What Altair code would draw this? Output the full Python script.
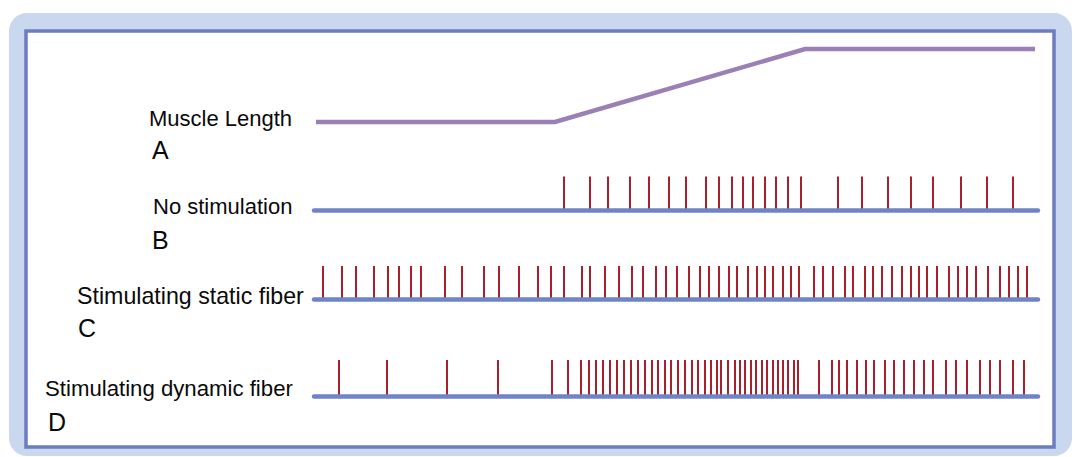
import altair as alt
import pandas as pd

# time axis: 0 = start of the recording traces, same unit along all rows
spikes_b = [250, 276, 294, 316, 335, 355, 372, 392, 405, 418, 429, 439, 451, 462, 474, 487,
            524, 548, 574, 597, 619, 647, 673, 699]
spikes_c = [9, 28, 42, 60, 74, 85, 97, 107, 131, 148, 170, 185, 205, 224, 237, 250, 268, 276,
            291, 305, 318, 329, 342, 352, 363, 375, 386, 395, 405, 415, 423, 434, 443, 451, 459,
            469, 477, 485, 500, 509, 519, 531, 539, 551, 559, 568, 578, 588, 597, 605, 613, 623,
            635, 644, 653, 662, 674, 686, 695, 704, 713]
spikes_d = [25, 73, 133, 184,
            238, 254, 267, 275, 282, 289, 296, 303, 310, 317, 324, 331, 338, 344, 351, 357, 364,
            371, 378, 384, 391, 397, 403, 407, 414, 421, 426, 431, 437, 442, 448, 453, 459, 464,
            469, 474, 480, 484,
            505, 518, 525, 533, 543, 552, 560, 571, 580, 590, 600, 610, 619, 632, 642, 653, 666,
            676, 686, 699, 710]

# muscle length trace (time, level)
length_t = [2, 241, 491, 721]
length_y = [91, 91, 18, 18]

trace_start, trace_end = 0, 724

row_names = ["B", "C", "D"]
row_base = [179.5, 268.5, 365.5]
row_top = [145.5, 235, 329]

labels = ["Muscle Length", "A", "No stimulation", "B", "Stimulating static fiber", "C",
          "Stimulating dynamic fiber", "D"]
label_t = [-165, -162, -161, -162, -237, -236, -269, -266]
label_y = [95, 128, 183, 218, 273, 306, 365, 400]
label_size = [22, 25, 22, 25, 23.2, 25, 22.2, 25]

# ---- tables
spk_rows = []
for name, sp, base, top in zip(row_names, [spikes_b, spikes_c, spikes_d], row_base, row_top):
    for t in sp:
        spk_rows.append({"row": name, "t": t, "y0": base, "y1": top})
spk_df = pd.DataFrame(spk_rows)

base_df = pd.DataFrame({"row": row_names, "t0": [trace_start] * 3, "t1": [trace_end] * 3,
                        "y": row_base})
len_df = pd.DataFrame({"t": length_t, "y": length_y})
lab_df = pd.DataFrame({"label": labels, "t": label_t, "y": label_y, "fs": label_size})

W, H = 1028, 416
xs = alt.Scale(domain=[-288, 740], nice=False, zero=False)
ys = alt.Scale(domain=[0, H], nice=False, zero=False, reverse=True)

dummy = pd.DataFrame({"a": [0]})

outer = alt.Chart(dummy).mark_rect(fill="#c9d7ef", cornerRadius=18).encode(
    x=alt.value(-17), x2=alt.value(1046), y=alt.value(-18), y2=alt.value(425))
inner = alt.Chart(dummy).mark_rect(fill="white", stroke="#6b7dbf", strokeWidth=3.5).encode(
    x=alt.value(0), x2=alt.value(W), y=alt.value(0), y2=alt.value(H))

spikes = alt.Chart(spk_df).mark_rule(color="#a81f2d", strokeWidth=2).encode(
    x=alt.X("t:Q", scale=xs, axis=None),
    y=alt.Y("y0:Q", scale=ys, axis=None),
    y2="y1:Q")

baselines = alt.Chart(base_df).mark_rule(color="#6f84c6", strokeWidth=4.5, strokeCap="round").encode(
    x=alt.X("t0:Q", scale=xs, axis=None),
    x2="t1:Q",
    y=alt.Y("y:Q", scale=ys, axis=None))

length = alt.Chart(len_df).mark_line(color="#9b80b6", strokeWidth=4.5).encode(
    x=alt.X("t:Q", scale=xs, axis=None),
    y=alt.Y("y:Q", scale=ys, axis=None))

text = alt.Chart(lab_df).mark_text(align="left", baseline="alphabetic",
                                   font="Liberation Sans", color="#0a0a0a").encode(
    x=alt.X("t:Q", scale=xs, axis=None),
    y=alt.Y("y:Q", scale=ys, axis=None),
    text="label:N",
    size=alt.Size("fs:Q", scale=None, legend=None))

chart = alt.layer(outer, inner, spikes, baselines, length, text).properties(
    width=W, height=H,
    padding={"left": 26, "top": 31, "right": 24, "bottom": 10},
    autosize=alt.AutoSizeParams(type="none"),
    background="white",
).configure_view(stroke=None)

chart.save("out.html", embed_options={"renderer": "svg", "actions": False})
